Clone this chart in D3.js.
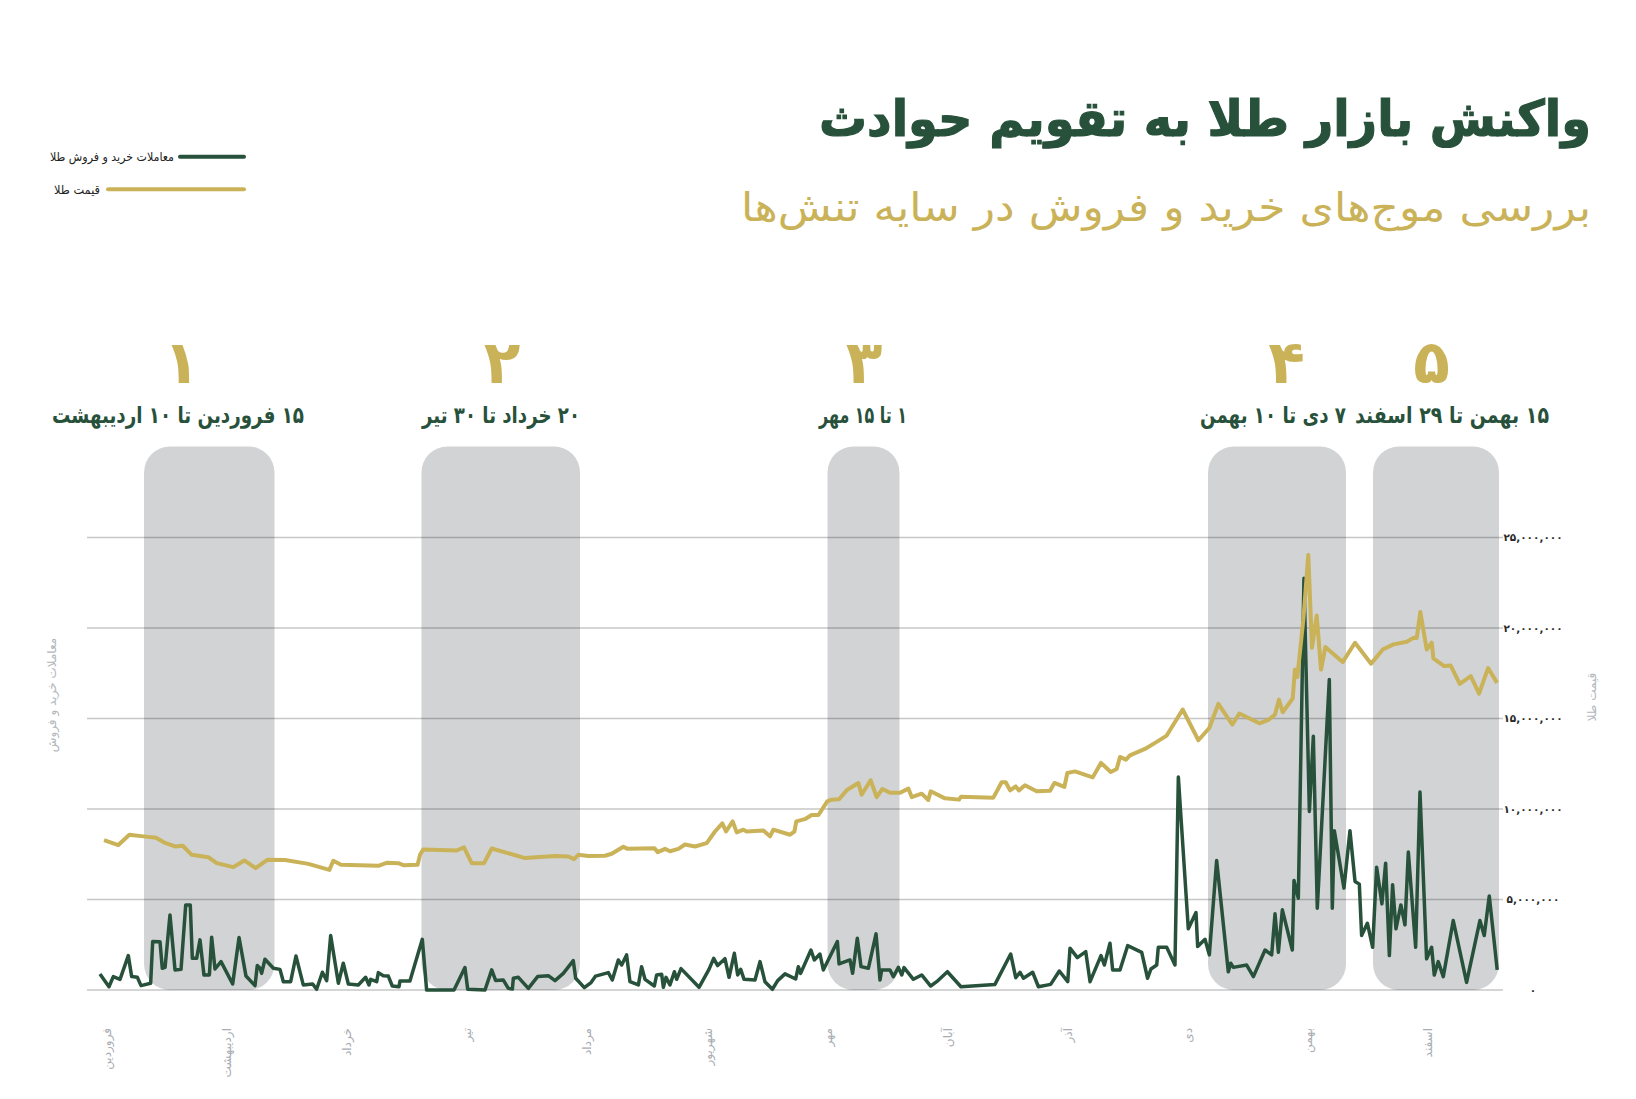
<!DOCTYPE html>
<html>
<head>
<meta charset="utf-8">
<script src="https://cdn.jsdelivr.net/npm/d3@7"></script>
<style>
  body { margin: 0; background: #fff; }
  svg { display: block; }
  text { font-family: "DejaVu Sans", sans-serif; }
</style>
</head>
<body>
<svg id="chart" width="1636" height="1099"></svg>
<script>
// month names of the Persian year (x axis)
var months = ['فروردین', 'اردیبهشت', 'خرداد', 'تیر', 'مرداد', 'شهریور', 'مهر', 'آبان', 'آذر', 'دی', 'بهمن', 'اسفند'];

// events: number, date range text, band extent in months from start of year
var eventNumbers = ['۱', '۲', '۳', '۴', '۵'];
var eventRanges = ['۱۵ فروردین تا ۱۰ اردیبهشت', '۲۰ خرداد تا ۳۰ تیر', '۱ تا ۱۵ مهر', '۷ دی تا ۱۰ بهمن', '۱۵ بهمن تا ۲۹ اسفند'];
var bandStart = [0.375, 2.685, 6.066, 9.234, 10.608];
var bandEnd = [1.461, 4.005, 6.665, 10.383, 11.657];

var valueTicks = [0, 5, 10, 15, 20, 25]; // millions

// [month position, value in millions]
var tradeSeries = [
  [0.008,0.89],[0.083,0.18],[0.119,0.74],[0.175,0.59],[0.244,1.90],[0.272,0.74],[0.319,0.70],[0.350,0.24],[0.430,0.37],
  [0.447,2.68],[0.508,2.66],[0.527,1.20],[0.550,1.25],[0.591,4.15],[0.633,1.11],[0.683,1.14],[0.722,4.70],[0.760,4.70],
  [0.777,1.75],[0.813,1.75],[0.841,2.77],[0.874,0.83],[0.919,0.83],[0.938,2.92],[0.966,1.16],[1.016,1.57],[1.113,0.33],
  [1.166,2.90],[1.224,0.77],[1.299,0.24],[1.318,1.35],[1.341,1.20],[1.354,0.92],[1.382,1.70],[1.452,1.20],[1.507,1.14],
  [1.535,0.46],[1.596,0.46],[1.640,1.88],[1.701,0.28],[1.779,0.33],[1.812,0.04],[1.860,0.98],[1.896,0.52],[1.929,3.01],
  [1.993,0.37],[2.034,1.48],[2.076,0.33],[2.159,0.28],[2.220,0.70],[2.248,0.28],[2.262,0.59],[2.312,0.46],[2.326,0.96],
  [2.367,0.79],[2.409,0.77],[2.442,0.22],[2.498,0.18],[2.506,0.50],[2.589,0.50],[2.692,2.80],[2.728,0],[2.956,0],
  [3.047,1.24],[3.070,0.04],[3.214,0],[3.270,1.11],[3.303,0.52],[3.367,0.55],[3.408,0.09],[3.442,0.06],[3.450,0.65],
  [3.492,0.70],[3.575,0.09],[3.652,0.74],[3.741,0.79],[3.797,0.52],[3.866,0.92],[3.949,1.62],[3.969,0.65],[4.041,0.13],
  [4.097,0.41],[4.135,0.77],[4.241,0.96],[4.274,0.55],[4.324,1.66],[4.352,1.38],[4.393,1.94],[4.421,0.46],[4.491,0.28],
  [4.518,1.29],[4.546,0.59],[4.624,0.22],[4.643,0.83],[4.685,0.87],[4.699,0.15],[4.721,0.70],[4.754,0.28],[4.791,1.01],
  [4.810,0.59],[4.846,1.18],[4.996,0.15],[5.079,1.14],[5.118,1.75],[5.151,1.35],[5.212,1.73],[5.246,0.70],[5.290,2.03],
  [5.318,0.83],[5.343,1.14],[5.371,0.59],[5.462,0.55],[5.504,1.57],[5.545,0.46],[5.607,0.04],[5.651,0.52],[5.712,0.89],
  [5.801,0.61],[5.823,1.29],[5.842,0.92],[5.928,2.21],[5.956,1.66],[6.003,1.99],[6.031,1.11],[6.148,2.68],[6.162,1.44],
  [6.253,1.66],[6.275,0.92],[6.314,2.86],[6.345,1.29],[6.406,1.20],[6.470,3.10],[6.503,0.55],[6.517,1.11],[6.586,1.11],
  [6.614,0.74],[6.656,1.25],[6.684,0.83],[6.703,1.24],[6.781,0.59],[6.850,0.83],[6.925,0.22],[6.975,0.46],[7.064,1.01],
  [7.177,0.18],[7.460,0.31],[7.591,1.99],[7.633,0.68],[7.669,0.98],[7.697,0.65],[7.774,0.98],[7.822,0.18],[7.924,0.31],
  [7.996,1.05],[8.066,0.46],[8.085,2.31],[8.146,1.79],[8.216,2.12],[8.252,0.46],[8.343,1.90],[8.371,1.38],[8.418,2.58],
  [8.440,1.11],[8.501,1.11],[8.565,2.45],[8.682,2.08],[8.731,0.65],[8.759,1.16],[8.807,1.38],[8.820,2.36],[8.890,2.36],
  [8.959,1.38],[8.987,11.77],[9.070,3.38],[9.134,4.28],[9.148,2.40],[9.209,2.80],[9.245,1.94],[9.306,7.16],[9.403,1.01],
  [9.423,1.48],[9.445,1.25],[9.556,1.38],[9.612,0.74],[9.709,2.21],[9.764,1.94],[9.792,4.21],[9.820,2.08],[9.853,4.43],
  [9.936,2.21],[9.950,6.05],[9.986,5.07],[10.033,22.75],[10.078,9.87],[10.111,14.02],[10.144,4.52],[10.244,17.16],
  [10.269,4.52],[10.286,8.80],[10.366,5.63],[10.416,8.80],[10.458,6.00],[10.494,5.85],[10.513,3.01],[10.561,3.69],
  [10.605,2.36],[10.638,6.79],[10.682,4.76],[10.713,7.01],[10.744,1.90],[10.771,5.81],[10.799,3.38],[10.840,4.70],
  [10.874,3.60],[10.902,7.62],[10.963,2.36],[10.999,10.94],[11.054,1.72],[11.096,2.36],[11.118,0.83],[11.151,1.57],
  [11.193,0.74],[11.276,3.84],[11.387,0.42],[11.498,3.84],[11.534,3.01],[11.576,5.20],[11.642,1.11]
];

var priceSeries = [
  [0.042,8.28],[0.161,8.01],[0.253,8.58],[0.369,8.49],[0.475,8.41],[0.544,8.15],[0.633,7.93],[0.697,7.97],[0.772,7.47],
  [0.910,7.34],[0.980,7.01],[1.119,6.79],[1.210,7.16],[1.304,6.73],[1.404,7.20],[1.549,7.18],[1.743,6.97],[1.918,6.64],
  [1.951,7.14],[2.015,6.92],[2.326,6.86],[2.395,7.03],[2.492,7.01],[2.534,6.90],[2.653,6.92],[2.673,7.47],[2.700,7.77],
  [2.978,7.71],[3.039,7.88],[3.103,7.01],[3.206,7.01],[3.270,7.82],[3.547,7.29],[3.797,7.40],[3.908,7.38],[3.955,7.23],
  [3.991,7.47],[4.074,7.40],[4.213,7.42],[4.269,7.53],[4.366,7.92],[4.402,7.80],[4.624,7.84],[4.652,7.62],[4.713,7.80],
  [4.755,7.67],[4.824,7.80],[4.879,8.04],[4.963,7.93],[5.060,8.12],[5.129,8.76],[5.190,9.21],[5.221,8.76],[5.276,9.32],
  [5.310,8.71],[5.365,8.86],[5.393,8.76],[5.532,8.82],[5.587,8.49],[5.615,8.86],[5.754,8.58],[5.790,8.75],[5.806,9.32],
  [5.884,9.46],[5.934,9.67],[5.990,9.67],[6.064,10.42],[6.100,10.52],[6.162,10.54],[6.231,11.07],[6.323,11.44],
  [6.350,10.79],[6.425,11.59],[6.475,10.66],[6.523,11.11],[6.586,10.90],[6.670,10.90],[6.739,11.13],[6.767,10.66],
  [6.850,10.85],[6.905,10.50],[6.925,10.98],[7.044,10.59],[7.161,10.52],[7.177,10.68],[7.447,10.63],[7.516,11.48],
  [7.550,11.48],[7.586,11.03],[7.633,11.25],[7.660,11.03],[7.710,11.31],[7.807,10.98],[7.919,11.01],[7.955,11.44],
  [8.038,11.22],[8.063,11.99],[8.127,12.08],[8.274,11.75],[8.343,12.55],[8.424,12.05],[8.474,12.21],[8.501,12.88],
  [8.551,12.73],[8.584,12.97],[8.709,13.32],[8.807,13.71],[8.890,14.06],[9.023,15.50],[9.154,13.80],[9.245,14.48],
  [9.320,15.81],[9.437,14.67],[9.495,15.28],[9.662,14.74],[9.737,14.93],[9.792,15.22],[9.825,16.05],[9.856,15.35],
  [9.939,16.11],[9.958,17.71],[9.978,17.29],[10.028,20.48],[10.069,24.04],[10.100,18.91],[10.139,20.70],[10.175,17.71],
  [10.211,18.95],[10.355,18.12],[10.458,19.19],[10.592,18.03],[10.689,18.82],[10.778,19.10],[10.889,19.24],
  [10.944,19.46],[10.972,19.45],[11.002,20.89],[11.055,18.82],[11.097,19.19],[11.111,18.32],[11.200,17.90],
  [11.255,17.93],[11.330,16.92],[11.422,17.34],[11.491,16.38],[11.566,17.79],[11.641,16.97]
];

// layout
var green = '#27513a', gold = '#cab258';
var numX = [181.5, 502, 864, 1286.5, 1431.5];
var rangeX = [178, 501, 863, 1273, 1452];
var rangeW = [252, 158, 88, 146, 194];

var svg = d3.select('#chart');
var x = d3.scaleLinear().domain([0, 12]).range([99, 99 + 12 * 120.1]);
var y = d3.scaleLinear().domain([0, 25]).range([990, 537.6]);

// persian digits
var fa = function (s) { return String(s).replace(/\d/g, function (d) { return '۰۱۲۳۴۵۶۷۸۹'[d]; }); };

// title + subtitle
svg.append('text')
  .attr('x', 1205).attr('y', 136)
  .attr('direction', 'rtl').attr('text-anchor', 'middle')
  .style('font-size', '50px').style('font-weight', 'bold').style('fill', green)
  .style('stroke', green).style('stroke-width', 1.2)
  .attr('textLength', 772).attr('lengthAdjust', 'spacingAndGlyphs')
  .text('واکنش بازار طلا به تقویم حوادث');

svg.append('text')
  .attr('x', 1166).attr('y', 221)
  .attr('direction', 'rtl').attr('text-anchor', 'middle')
  .style('font-size', '40px').style('fill', gold)
  .attr('textLength', 850).attr('lengthAdjust', 'spacingAndGlyphs')
  .text('بررسی موج\u200cهای خرید و فروش در سایه تنش\u200cها');

// legend
var legend = [
  { label: 'معاملات خرید و فروش طلا', color: green, x1: 180, tx: 174, y: 156.7, w: 124 },
  { label: 'قیمت طلا', color: gold, x1: 108, tx: 100, y: 189.3, w: 46 }
];
legend.forEach(function (d) {
  svg.append('line')
    .attr('x1', d.x1).attr('x2', 244).attr('y1', d.y).attr('y2', d.y)
    .style('stroke', d.color).style('stroke-width', 4).style('stroke-linecap', 'round');
  svg.append('text')
    .attr('x', d.tx).attr('y', d.y + 4.5)
    .attr('direction', 'rtl').attr('text-anchor', 'start')
    .style('font-size', '12px').style('fill', '#222')
    .attr('textLength', d.w).attr('lengthAdjust', 'spacingAndGlyphs')
    .text(d.label);
});

// event bands
svg.append('g').selectAll('rect')
  .data(bandStart)
  .enter().append('rect')
  .attr('x', function (d) { return x(d); })
  .attr('width', function (d, i) { return x(bandEnd[i]) - x(d); })
  .attr('y', 446.5)
  .attr('height', y(0) - 446.5)
  .attr('rx', 26).attr('ry', 26)
  .style('fill', '#d1d3d5');

// event numbers and dates
svg.append('g').selectAll('text')
  .data(eventNumbers)
  .enter().append('text')
  .attr('x', function (d, i) { return numX[i]; })
  .attr('y', 383)
  .attr('text-anchor', 'middle')
  .style('font-size', '60px').style('font-weight', 'bold').style('fill', gold)
  .text(function (d) { return d; });

svg.append('g').selectAll('text')
  .data(eventRanges)
  .enter().append('text')
  .attr('x', function (d, i) { return rangeX[i]; })
  .attr('y', 423)
  .attr('direction', 'rtl').attr('text-anchor', 'middle')
  .style('font-size', '23px').style('font-weight', 'bold').style('fill', green)
  .attr('textLength', function (d, i) { return rangeW[i]; })
  .attr('lengthAdjust', 'spacingAndGlyphs')
  .text(function (d) { return d; });

// grid
svg.append('g').selectAll('line')
  .data(valueTicks)
  .enter().append('line')
  .attr('x1', 87).attr('x2', 1503)
  .attr('y1', function (d) { return y(d); })
  .attr('y2', function (d) { return y(d); })
  .style('stroke', '#000').style('stroke-opacity', 0.22).style('stroke-width', 1.5);

// right tick labels
svg.append('g').selectAll('text')
  .data(valueTicks)
  .enter().append('text')
  .attr('x', 1533)
  .attr('y', function (d) { return y(d); })
  .attr('dy', '0.35em')
  .attr('text-anchor', 'middle')
  .style('font-size', '10.5px').style('font-weight', 'bold').style('fill', '#2a2a2a')
  .text(function (d) { return d === 0 ? '۰' : fa(d3.format(',')(d * 1e6)); });

// axis titles
svg.append('text')
  .attr('transform', 'translate(56,695) rotate(-90)')
  .attr('direction', 'rtl').attr('text-anchor', 'middle')
  .style('font-size', '12px').style('fill', '#b3b7bc')
  .text('معاملات خرید و فروش');

svg.append('text')
  .attr('transform', 'translate(1596,697) rotate(-90)')
  .attr('direction', 'rtl').attr('text-anchor', 'middle')
  .style('font-size', '12px').style('fill', '#b3b7bc')
  .text('قیمت طلا');

// month labels
svg.append('g').selectAll('text')
  .data(months)
  .enter().append('text')
  .attr('transform', function (d, i) { return 'translate(' + (x(i) + 12) + ',1028) rotate(-90)'; })
  .attr('direction', 'rtl').attr('text-anchor', 'start')
  .style('font-size', '12px').style('fill', '#a9adb2')
  .text(function (d) { return d; });

// lines
var line = d3.line()
  .x(function (d) { return x(d[0]); })
  .y(function (d) { return y(d[1]); });

svg.append('path')
  .datum(tradeSeries)
  .attr('d', line)
  .style('fill', 'none').style('stroke', green).style('stroke-width', 3.5)
  .style('stroke-linejoin', 'round');

svg.append('path')
  .datum(priceSeries)
  .attr('d', line)
  .style('fill', 'none').style('stroke', gold).style('stroke-width', 4)
  .style('stroke-linejoin', 'round');
</script>
</body>
</html>
